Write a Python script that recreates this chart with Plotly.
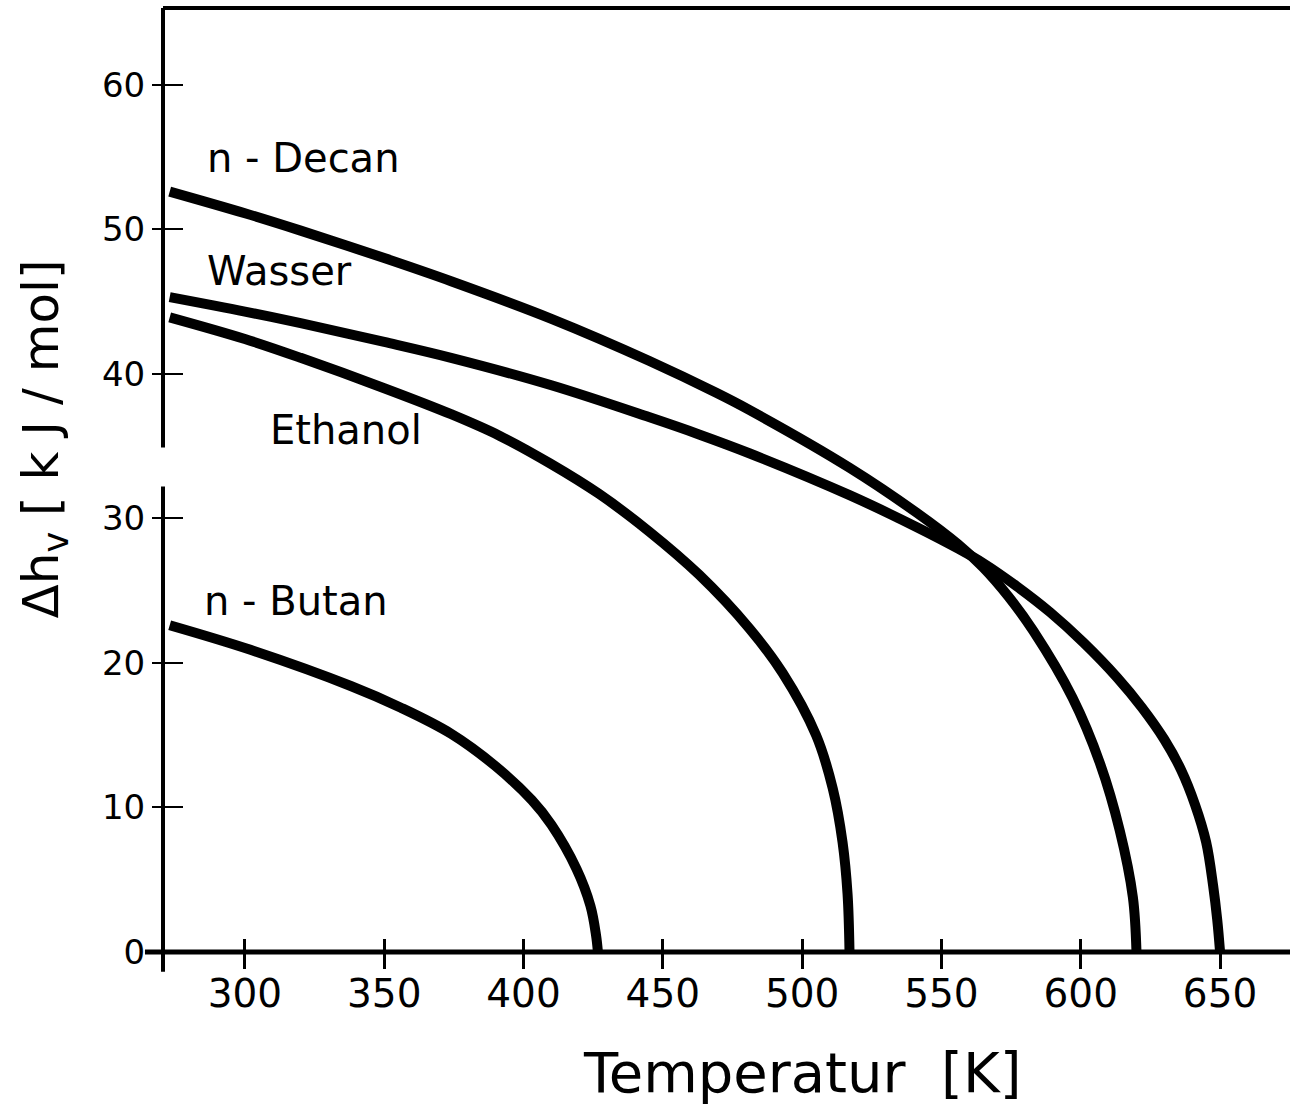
import plotly.graph_objects as go

# ---------------- data ----------------
T_decan = [273, 300, 320, 350, 374, 410, 445, 469, 481, 517, 541, 556, 565, 574, 583, 597, 607, 614, 618.7, 620]
H_decan = [52.6, 51.1, 49.9, 48.0, 46.4, 43.8, 40.9, 38.7, 37.5, 33.5, 30.4, 28.2, 26.6, 24.6, 22.2, 17.6, 13.0, 8.4, 3.8, 0.0]

T_wasser = [273, 300, 320, 350, 374, 410, 445, 463, 481, 517, 541, 556, 565, 577, 589, 601, 613, 622, 630, 636, 641, 645, 647.5, 649, 650]
H_wasser = [45.3, 44.3, 43.5, 42.2, 41.1, 39.2, 37.0, 35.8, 34.5, 31.6, 29.4, 27.9, 26.9, 25.3, 23.5, 21.4, 19.0, 16.9, 14.7, 12.6, 10.2, 7.6, 4.6, 2.2, 0.0]

T_ethanol = [273, 300, 320, 350, 374, 391.5, 409.5, 427, 445, 463, 481, 493, 505, 511, 514.5, 516.3, 517]
H_ethanol = [43.9, 42.4, 41.1, 39.0, 37.2, 35.7, 33.8, 31.7, 29.1, 26.1, 22.4, 19.3, 15.0, 11.3, 7.6, 4.0, 0.0]

T_butan = [273, 302, 338, 356, 374, 390, 403, 410, 419, 424, 426, 426.7]
H_butan = [22.6, 20.9, 18.4, 16.9, 15.1, 12.85, 10.5, 8.8, 5.75, 3.2, 1.2, 0.0]

series_names = ["n - Decan", "Wasser", "Ethanol", "n - Butan"]
label_T = [285.6, 285.6, 308.3, 284.6]
label_H = [54.9, 47.1, 36.1, 24.3]

x_tickvals = [300, 350, 400, 450, 500, 550, 600, 650]
x_ticktext = ["300", "350", "400", "450", "500", "550", "600", "650"]
y_tickvals = [0, 10, 20, 30, 40, 50, 60]
y_ticktext = ["0", "10", "20", "30", "40", "50", "60"]

x_range = [270.6, 675.1]
y_range = [0, 65.3]
y_axis_break = [32.2, 34.9]   # gap in the drawn y-axis line

x_title = "Temperatur  [K]"
y_title = "Δh<sub>v</sub> [ k J / mol]"

# ---------------- figure ----------------
FONT = "DejaVu Sans"
W, H = 1290, 1105
ML, MR, MT, MB = 163, 0, 8, 153

fig = go.Figure()
for Tx, Hy in [(T_decan, H_decan), (T_wasser, H_wasser), (T_ethanol, H_ethanol), (T_butan, H_butan)]:
    fig.add_trace(go.Scatter(x=Tx, y=Hy, mode="lines",
                             line=dict(color="black", width=10, shape="spline", smoothing=1.0),
                             showlegend=False, hoverinfo="skip"))

for name, tx, hy in zip(series_names, label_T, label_H):
    fig.add_annotation(x=tx, y=hy, xref="x", yref="y", text=name, showarrow=False,
                       xanchor="left", yanchor="middle",
                       font=dict(family=FONT, size=40, color="black"))

def py(v):
    return (v - y_range[0]) / (y_range[1] - y_range[0])

line = dict(color="black", width=4)
# top border
fig.add_shape(type="line", xref="paper", yref="paper", x0=0, x1=1, y0=1, y1=1, line=line)
# y-axis line with break
fig.add_shape(type="line", xref="paper", yref="paper", x0=0, x1=0,
              y0=py(y_axis_break[1]), y1=1, line=line)
fig.add_shape(type="line", xref="paper", yref="paper", x0=0, x1=0,
              y0=-0.021, y1=py(y_axis_break[0]), line=line)
# x-axis line
fig.add_shape(type="line", xref="paper", yref="paper", x0=-0.016, x1=1, y0=0, y1=0,
              line=dict(color="black", width=5))

common = dict(showgrid=False, zeroline=False, showline=False, tickcolor="black")
fig.update_layout(
    width=W, height=H,
    margin=dict(l=ML, r=MR, t=MT, b=MB, pad=0),
    paper_bgcolor="white", plot_bgcolor="white",
    xaxis=dict(range=x_range, tickmode="array", tickvals=x_tickvals, ticktext=x_ticktext,
               ticks="outside", ticklen=7, tickwidth=2.5,
               tickfont=dict(family=FONT, size=39, color="black"), **common),
    xaxis2=dict(range=x_range, overlaying="x", anchor="y", side="bottom",
                tickmode="array", tickvals=x_tickvals, ticks="outside", ticklen=16, tickwidth=2.5,
                showticklabels=False, **common),
    xaxis3=dict(range=x_range, overlaying="x", anchor="y", side="bottom",
                tickmode="array", tickvals=x_tickvals, ticks="inside", ticklen=13, tickwidth=2.5,
                showticklabels=False, **common),
    yaxis=dict(range=y_range, tickmode="array", tickvals=y_tickvals, ticktext=y_ticktext,
               ticks="outside", ticklen=10, tickwidth=2,
               tickfont=dict(family=FONT, size=34, color="black"), **common),
    yaxis2=dict(range=y_range, overlaying="y", anchor="x", side="left",
                tickmode="array", tickvals=y_tickvals, ticks="inside", ticklen=20, tickwidth=2,
                showticklabels=False, **common),
)
# empty traces to activate the secondary (tick-only) axes
fig.add_trace(go.Scatter(x=[None], y=[None], xaxis="x2", yaxis="y2", showlegend=False, hoverinfo="skip"))
fig.add_trace(go.Scatter(x=[None], y=[None], xaxis="x3", yaxis="y2", showlegend=False, hoverinfo="skip"))

fig.add_annotation(x=(802 - ML) / (W - ML - MR), y=-0.128, xref="paper", yref="paper",
                   text=x_title, showarrow=False, xanchor="center", yanchor="middle",
                   font=dict(family=FONT, size=56, color="black"))
fig.add_annotation(x=(44 - ML) / (W - ML - MR), y=0.543, xref="paper", yref="paper",
                   text=y_title, showarrow=False, textangle=-90, xanchor="center", yanchor="middle",
                   font=dict(family=FONT, size=50, color="black"))

fig.write_html("out.html", config={"displayModeBar": False},
               post_script="document.body.style.margin='0';document.body.style.overflow='hidden';")
